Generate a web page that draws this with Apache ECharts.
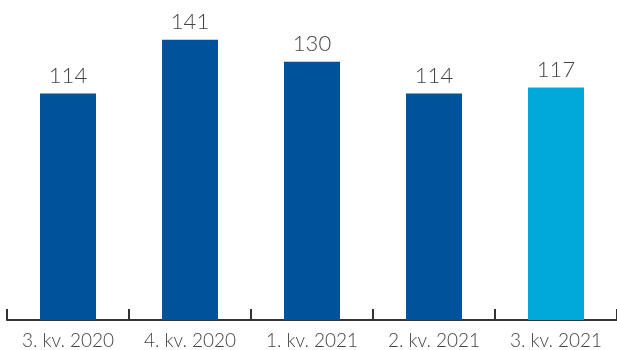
<!DOCTYPE html>
<html>
<head>
<meta charset="utf-8">
<style>
  html, body { margin: 0; padding: 0; background: #fff; }
  #chart { width: 617px; height: 350px; }
</style>
<script src="https://cdn.jsdelivr.net/npm/echarts@6/dist/echarts.min.js"></script>
</head>
<body>
<div id="chart"></div>
<script>
const categories = ['3. kv. 2020', '4. kv. 2020', '1. kv. 2021', '2. kv. 2021', '3. kv. 2021'];
const values = [114, 141, 130, 114, 117];
const barColors = ['#00529b', '#00529b', '#00529b', '#00529b', '#00a9d9'];

const chart = echarts.init(document.getElementById('chart'));
chart.setOption({
  animation: false,
  grid: { left: 7, right: 0, top: 2, bottom: 30, containLabel: false },
  xAxis: {
    type: 'category',
    data: categories,
    boundaryGap: true,
    axisLine: { lineStyle: { color: '#333', width: 2 } },
    axisTick: { show: true, interval: 0, inside: true, length: 11, lineStyle: { color: '#333', width: 2 } },
    axisLabel: {
      interval: 0,
      hideOverlap: false,
      color: '#444',
      fontFamily: 'Lato',
      fontWeight: 300,
      fontSize: 19,
      margin: 11
    }
  },
  yAxis: {
    type: 'value',
    min: 0,
    max: 160,
    show: false
  },
  series: [{
    type: 'bar',
    barWidth: 56,
    data: values.map((v, i) => ({ value: v, itemStyle: { color: barColors[i] } })),
    label: {
      show: true,
      position: 'top',
      distance: 7,
      color: '#444',
      fontFamily: 'Lato',
      fontWeight: 300,
      fontSize: 22
    }
  }]
});
</script>
</body>
</html>
